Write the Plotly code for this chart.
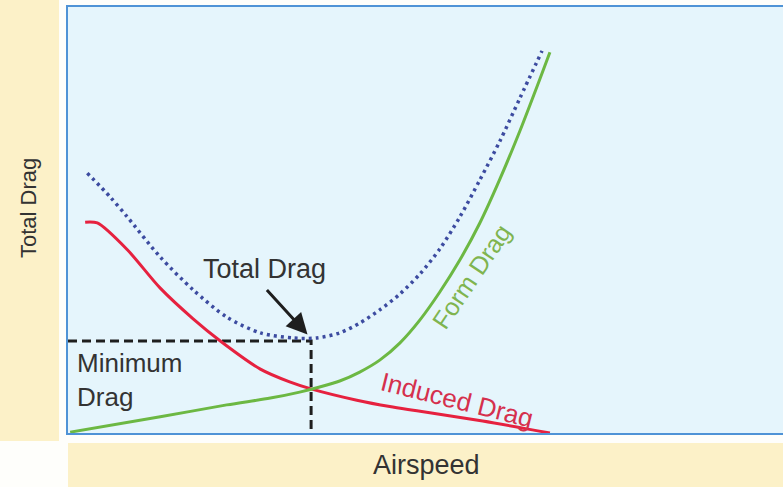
import plotly.graph_objects as go

# ---- data (arbitrary units) ----
total_x = [0.27, 0.59, 0.83, 1.29, 1.75, 2.22, 2.69, 3.15, 3.48, 3.80, 4.08, 4.36, 4.64, 4.92, 5.20, 5.48, 5.76, 6.04, 6.32, 6.63]
total_y = [6.10, 5.54, 5.07, 4.13, 3.36, 2.72, 2.35, 2.23, 2.23, 2.35, 2.58, 2.89, 3.26, 3.73, 4.32, 5.07, 5.94, 6.85, 7.86, 8.97]

form_x = [0.03, 1.29, 2.22, 2.83, 3.24, 3.52, 3.80, 4.08, 4.36, 4.64, 4.92, 5.20, 5.48, 5.76, 6.04, 6.32, 6.60, 6.74]
form_y = [0.02, 0.38, 0.66, 0.82, 0.96, 1.08, 1.22, 1.43, 1.71, 2.11, 2.65, 3.31, 4.06, 4.93, 5.96, 7.09, 8.31, 8.94]

induced_x = [0.24, 0.41, 0.83, 1.29, 1.75, 2.13, 2.69, 3.10, 3.41, 4.04, 4.50, 4.88, 5.80, 6.74]
induced_y = [4.95, 4.93, 4.30, 3.40, 2.68, 2.16, 1.50, 1.20, 1.03, 0.77, 0.62, 0.52, 0.28, 0.00]

min_speed = 3.40
min_drag = 2.16

# ---- styling ----
BG = "#e5f5fc"
BORDER = "#4f93d6"
BEIGE = "#fcf1c8"
TEXT = "#333333"
RED = "#e6213f"
GREEN = "#6cb843"
BLUE = "#3c4ba0"
FONT = "Liberation Sans, Arial, sans-serif"

W, H = 783, 487
L, R, T, B = 68, 0, 7, 54
PW, PH = W - L - R, H - T - B


def px_x(p):
    return (p - L) / PW


def px_y(p):
    return (H - B - p) / PH


fig = go.Figure()

# minimum-drag dashed guide lines
fig.add_trace(go.Scatter(x=[0, min_speed, min_speed], y=[min_drag, min_drag, 0],
                         mode="lines", line=dict(color="#1e1e1e", width=3, dash="9px,5px"),
                         hoverinfo="skip"))
fig.add_trace(go.Scatter(x=induced_x, y=induced_y, mode="lines",
                         line=dict(color=RED, width=3, shape="spline", smoothing=0.8),
                         name="Induced Drag"))
fig.add_trace(go.Scatter(x=form_x, y=form_y, mode="lines",
                         line=dict(color=GREEN, width=3, shape="spline", smoothing=0.8),
                         name="Form Drag"))
fig.add_trace(go.Scatter(x=total_x, y=total_y, mode="lines",
                         line=dict(color=BLUE, width=3.5, dash="3px,4px", shape="spline", smoothing=0.8),
                         name="Total Drag"))

shapes = [
    # left beige strip for the y title
    dict(type="rect", xref="paper", yref="paper", x0=px_x(0), x1=px_x(59), y0=px_y(441), y1=px_y(0),
         fillcolor=BEIGE, line=dict(width=0), layer="below"),
    # bottom beige strip for the x title
    dict(type="rect", xref="paper", yref="paper", x0=px_x(68), x1=px_x(783), y0=px_y(487), y1=px_y(443),
         fillcolor=BEIGE, line=dict(width=0), layer="below"),
]

annotations = [
    dict(text="Total Drag", xref="paper", yref="paper", x=px_x(28), y=px_y(208), textangle=-90,
         showarrow=False, font=dict(family=FONT, size=22, color=TEXT), xanchor="center", yanchor="middle"),
    dict(text="Airspeed", xref="paper", yref="paper", x=px_x(426), y=px_y(465),
         showarrow=False, font=dict(family=FONT, size=27, color=TEXT), xanchor="center", yanchor="middle"),
    dict(text="Total Drag", xref="paper", yref="paper", x=px_x(264), y=px_y(269),
         showarrow=False, font=dict(family=FONT, size=27, color=TEXT), xanchor="center", yanchor="middle"),
    dict(text="Minimum<br>Drag", xref="paper", yref="paper", x=px_x(75), y=px_y(380), align="left",
         showarrow=False, font=dict(family=FONT, size=26, color=TEXT), xanchor="left", yanchor="middle"),
    dict(text="Form Drag", xref="paper", yref="paper", x=px_x(471), y=px_y(277), textangle=-56,
         showarrow=False, font=dict(family=FONT, size=25, color="#7fb44f"), xanchor="center", yanchor="middle"),
    dict(text="Induced Drag", xref="paper", yref="paper", x=px_x(457), y=px_y(400), textangle=14,
         showarrow=False, font=dict(family=FONT, size=26, color="#d5304d"), xanchor="center", yanchor="middle"),
    # arrow pointing to the minimum of total drag
    dict(text="", x=min_speed - 0.05, y=min_drag + 0.15, xref="x", yref="y", showarrow=True,
         ax=-42, ay=-46, axref="pixel", ayref="pixel", arrowhead=2, arrowsize=1.4, arrowwidth=3,
         arrowcolor="#1e1e1e"),
]

fig.update_layout(
    width=W, height=H,
    margin=dict(l=L, r=R, t=T, b=B),
    paper_bgcolor="#fefefb",
    plot_bgcolor=BG,
    showlegend=False,
    shapes=shapes,
    annotations=annotations,
    xaxis=dict(range=[0, 10], showgrid=False, zeroline=False, showticklabels=False, ticks="",
               showline=True, linecolor=BORDER, linewidth=2, mirror=True, fixedrange=True),
    yaxis=dict(range=[0, 10], showgrid=False, zeroline=False, showticklabels=False, ticks="",
               showline=True, linecolor=BORDER, linewidth=2, mirror=False, fixedrange=True),
)

fig.write_html("out.html", config={"displayModeBar": False},
               post_script="document.body.style.margin='0';document.body.style.overflow='hidden';")
